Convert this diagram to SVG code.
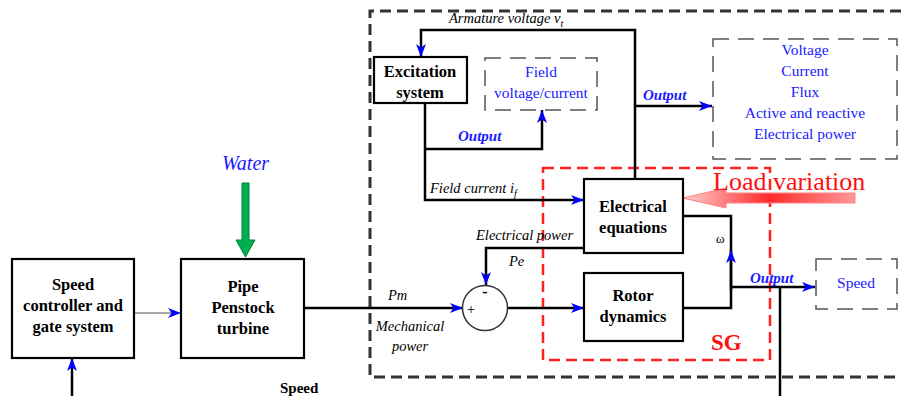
<svg xmlns="http://www.w3.org/2000/svg" width="901" height="396" viewBox="0 0 901 396">
<style>
text{font-family:"Liberation Serif","DejaVu Serif","Noto Serif",serif}
.box{fill:#fff;stroke:#000;stroke-width:2.2}
.ln{fill:none;stroke:#000;stroke-width:2.5}
.bt{font-weight:bold;font-size:16.5px;fill:#000;text-anchor:middle}
.bl{font-size:15.5px;fill:#1a1aff;text-anchor:middle}
.it{font-style:italic;font-size:14.5px;fill:#000}
.out{font-style:italic;font-weight:bold;font-size:15px;fill:#1a1aff}
.dash{fill:none;stroke:#555;stroke-width:1.5;stroke-dasharray:16 9}
</style>
<defs>
<marker id="ar" markerUnits="userSpaceOnUse" markerWidth="14" markerHeight="10" refX="13" refY="5" orient="auto">
<path d="M0,0 L13,5 L0,10 L3.5,5 z" fill="#0000ff"/>
</marker>
<linearGradient id="lg" gradientUnits="userSpaceOnUse" x1="683" y1="0" x2="856" y2="0">
<stop offset="0" stop-color="#ffd0d0"/>
<stop offset="0.5" stop-color="#ff2a2a"/>
<stop offset="1" stop-color="#ff9a9a"/>
</linearGradient>
</defs>

<g id="frames">
<path d="M901,11 L370,11 L370,377 L901,377" fill="none" stroke="#333" stroke-width="3" stroke-dasharray="11 6"/>
<rect x="543" y="168" width="227" height="192" fill="none" stroke="#ff2020" stroke-width="2.5" stroke-dasharray="11 6"/>
</g>

<g id="connectors">
<line x1="72" y1="396" x2="72" y2="358" class="ln" marker-end="url(#ar)"/>
<line x1="134" y1="313" x2="181" y2="313" fill="none" stroke="#8a8a8a" stroke-width="1.5" marker-end="url(#ar)"/>
<line x1="304" y1="308" x2="463" y2="308" class="ln" marker-end="url(#ar)"/>
<line x1="508" y1="308" x2="584" y2="308" class="ln" marker-end="url(#ar)"/>
<polyline points="584,248 486,248 486,285" class="ln" marker-end="url(#ar)"/>
<polyline points="635,179 635,30 421,30 421,57" class="ln" marker-end="url(#ar)"/>
<line x1="635" y1="106" x2="712" y2="106" class="ln" marker-end="url(#ar)"/>
<polyline points="425,103 425,200 584,200" class="ln" marker-end="url(#ar)"/>
<polyline points="425,149 542,149 542,110" class="ln" marker-end="url(#ar)"/>
<polyline points="683,216 731,216 731,308 683,308" class="ln"/>
<line x1="731" y1="290" x2="731" y2="250" class="ln" marker-end="url(#ar)"/>
<line x1="731" y1="287" x2="815" y2="287" class="ln" marker-end="url(#ar)"/>
<line x1="780" y1="287" x2="780" y2="396" class="ln"/>
<polygon points="683,198 726,188 726,193 855,193 855,203 726,203 726,208" fill="url(#lg)" stroke="#ff8080" stroke-width="1"/>
<polygon points="242,183 249,183 249,240 255,240 245.5,257 236,240 242,240" fill="#00b050" stroke="#00803a" stroke-width="1"/>
</g>

<g id="speed-controller">
<rect x="12" y="259" width="122" height="99" class="box"/>
<text class="bt" x="73" y="290">Speed</text>
<text class="bt" x="73" y="311">controller and</text>
<text class="bt" x="73" y="332">gate system</text>
</g>

<g id="pipe-turbine">
<rect x="181" y="259" width="123" height="99" class="box"/>
<text class="bt" x="243" y="292">Pipe</text>
<text class="bt" x="243" y="313">Penstock</text>
<text class="bt" x="243" y="334">turbine</text>
</g>

<g id="excitation">
<rect x="374" y="57" width="93" height="46" class="box"/>
<text class="bt" x="420" y="77">Excitation</text>
<text class="bt" x="420" y="98">system</text>
</g>

<g id="field-box">
<rect x="485" y="58" width="112" height="52" class="dash"/>
<text class="bl" x="541" y="77">Field</text>
<text class="bl" x="541" y="98">voltage/current</text>
</g>

<g id="outputs-box">
<rect x="713" y="39" width="184" height="120" class="dash"/>
<text class="bl" x="805" y="55">Voltage</text>
<text class="bl" x="805" y="76">Current</text>
<text class="bl" x="805" y="97">Flux</text>
<text class="bl" x="805" y="118">Active and reactive</text>
<text class="bl" x="805" y="139">Electrical power</text>
</g>

<g id="electrical-equations">
<rect x="584" y="179" width="99" height="74" class="box"/>
<text class="bt" x="633" y="212">Electrical</text>
<text class="bt" x="633" y="233">equations</text>
</g>

<g id="rotor-dynamics">
<rect x="584" y="273" width="99" height="68" class="box"/>
<text class="bt" x="633" y="301">Rotor</text>
<text class="bt" x="633" y="322">dynamics</text>
</g>

<g id="sum">
<circle cx="485" cy="308" r="22.5" fill="#fff" stroke="#333" stroke-width="1.5"/>
<text x="485" y="297" font-weight="bold" font-size="16" text-anchor="middle">-</text>
<text x="471" y="314" font-size="15" text-anchor="middle">+</text>
</g>

<g id="speed-box">
<rect x="816" y="259" width="81" height="50" class="dash"/>
<text class="bl" x="856" y="288" font-size="15">Speed</text>
</g>

<g id="labels">
<text class="it" x="449" y="23">Armature voltage v<tspan font-size="10" dy="4">t</tspan></text>
<text class="it" x="430" y="193">Field current  i<tspan font-size="10" dy="4">f</tspan></text>
<text class="it" x="476" y="240">Electrical power</text>
<text class="it" x="509" y="266" font-size="15">Pe</text>
<text class="it" x="388" y="300" font-size="15">Pm</text>
<text class="it" x="410" y="331" text-anchor="middle">Mechanical</text>
<text class="it" x="410" y="351" text-anchor="middle">power</text>
<text x="716" y="243" font-size="13">ω</text>
<text class="out" x="643" y="100">Output</text>
<text class="out" x="458" y="141">Output</text>
<text class="out" x="750" y="283">Output</text>
<text x="713" y="190" font-size="26" fill="#ff1010">Load variation</text>
<text x="711" y="350" font-weight="bold" font-size="23" fill="#ff1010">SG</text>
<text x="222" y="170" font-style="italic" font-size="20" fill="#1a1aff">Water</text>
<text x="280" y="393" font-weight="bold" font-size="15">Speed</text>
</g>
</svg>
